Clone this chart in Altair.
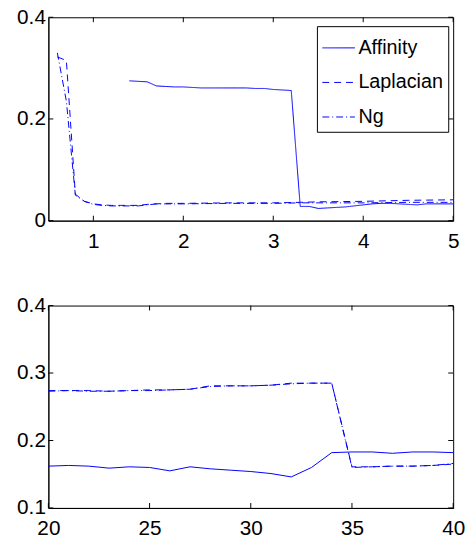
import altair as alt
import pandas as pd

FONT = "Liberation Sans"
FS = 21
BLUE = "#0000ff"

# ---------------- top panel data ----------------
top_aff_x = [1.4, 1.5, 1.6, 1.7, 1.8, 1.9, 2.0, 2.1, 2.2, 2.3, 2.4, 2.5, 2.6, 2.7, 2.8, 2.9, 3.0, 3.1, 3.2,
             3.3, 3.4, 3.5, 3.6, 3.7, 3.8, 3.9, 4.0, 4.1, 4.2, 4.3, 4.4, 4.5, 4.6, 4.7, 4.8, 4.9, 5.0]
top_aff_y = [0.275, 0.274, 0.273, 0.265, 0.264, 0.263, 0.263, 0.262, 0.261, 0.261, 0.261, 0.261, 0.261, 0.261,
             0.260, 0.260, 0.258, 0.257, 0.256,
             0.028, 0.028, 0.024, 0.025, 0.026, 0.027, 0.029, 0.031, 0.033, 0.034, 0.034, 0.033, 0.032, 0.031,
             0.033, 0.033, 0.033, 0.033]

top_lap_x = [0.6, 0.7, 0.8, 0.9, 1.0, 1.1, 1.2, 1.3, 1.4, 1.5, 1.6, 1.7, 1.8, 2.0, 2.5, 3.0, 3.3, 3.5, 4.0, 4.5, 5.0]
top_lap_y = [0.322, 0.315, 0.052, 0.038, 0.033, 0.031, 0.030, 0.030, 0.030, 0.030, 0.032, 0.033, 0.034, 0.034,
             0.035, 0.035, 0.036, 0.037, 0.038, 0.040, 0.041]

top_ng_x = [0.6, 0.7, 0.8, 0.9, 1.0, 1.1, 1.2, 1.3, 1.4, 1.5, 1.6, 1.7, 1.8, 2.0, 2.5, 3.0, 3.3, 3.5, 4.0, 4.5, 5.0]
top_ng_y = [0.330, 0.235, 0.050, 0.038, 0.032, 0.030, 0.029, 0.029, 0.029, 0.029, 0.031, 0.033, 0.033, 0.033,
            0.034, 0.034, 0.035, 0.035, 0.035, 0.036, 0.036]

top_xticks = [1, 2, 3, 4, 5]
top_yticks = [0, 0.2, 0.4]

# ---------------- bottom panel data ----------------
bot_x = list(range(20, 41))
bot_aff_y = [0.162, 0.163, 0.162, 0.159, 0.161, 0.160, 0.155, 0.161, 0.158, 0.156, 0.154, 0.151, 0.146, 0.160,
             0.182, 0.183, 0.183, 0.181, 0.183, 0.183, 0.182]
bot_lap_y = [0.274, 0.274, 0.274, 0.273, 0.274, 0.275, 0.275, 0.276, 0.281, 0.281, 0.281, 0.282, 0.285, 0.285,
             0.285, 0.161, 0.161, 0.162, 0.162, 0.163, 0.165]
bot_ng_y = [0.273, 0.274, 0.273, 0.273, 0.274, 0.274, 0.275, 0.276, 0.280, 0.281, 0.281, 0.282, 0.284, 0.285,
            0.285, 0.160, 0.161, 0.162, 0.162, 0.163, 0.166]

bot_xticks = [20, 25, 30, 35, 40]
bot_yticks = [0.1, 0.2, 0.3, 0.4]

series = ["Affinity", "Laplacian", "Ng"]
dashes = [[1, 0], [7, 5], [7, 3, 1, 3]]

W, H = 410, 206
H2 = 205
TICK = 5


def axis_x(vals):
    return alt.Axis(values=vals, ticks=False, grid=False, labelFlush=False, title=None,
                    labelPadding=10, labelFont=FONT, labelFontSize=FS, labelColor="black",
                    domainColor="black", format="d")


def axis_y(vals, expr):
    return alt.Axis(values=vals, ticks=False, grid=False, labelFlush=False, title=None,
                    labelPadding=3, labelFont=FONT, labelFontSize=FS, labelColor="black",
                    domainColor="black", labelExpr=expr)


def tick_layers(xticks, yticks, xenc, yenc, h):
    dx = pd.DataFrame({"x": xticks})
    dy = pd.DataFrame({"y": yticks})
    b = alt.Chart(dx).mark_rule(color="black", strokeWidth=1).encode(
        x=xenc, y=alt.value(h), y2=alt.value(h - TICK))
    t = alt.Chart(dx).mark_rule(color="black", strokeWidth=1).encode(
        x=xenc, y=alt.value(0), y2=alt.value(TICK))
    l = alt.Chart(dy).mark_rule(color="black", strokeWidth=1).encode(
        y=yenc, x=alt.value(0), x2=alt.value(TICK))
    r = alt.Chart(dy).mark_rule(color="black", strokeWidth=1).encode(
        y=yenc, x=alt.value(W - TICK), x2=alt.value(W))
    return [b, t, l, r]


# ---------------- top chart ----------------
rows = []
for name, xs, ys in [("Affinity", top_aff_x, top_aff_y), ("Laplacian", top_lap_x, top_lap_y),
                     ("Ng", top_ng_x, top_ng_y)]:
    for i, (a, b) in enumerate(zip(xs, ys)):
        rows.append({"series": name, "x": a, "y": b, "i": i})
df_top = pd.DataFrame(rows)

xenc_t = alt.X("x:Q", scale=alt.Scale(domain=[0.5, 5], nice=False, zero=False), axis=axis_x(top_xticks))
yenc_t = alt.Y("y:Q", scale=alt.Scale(domain=[0, 0.4], nice=False, zero=False),
               axis=axis_y(top_yticks, "datum.value == 0 ? '0' : format(datum.value, '.1f')"))

leg = alt.Legend(title=None, orient="none", legendX=272, legendY=9,
                 symbolType="stroke", symbolSize=1089,
                 symbolStrokeColor=BLUE, symbolStrokeWidth=1,
                 labelFont=FONT, labelFontSize=20, labelColor="black",
                 labelOffset=3, padding=5, rowPadding=8,
                 strokeColor="black", fillColor="white")

lines_top = alt.Chart(df_top).mark_line(strokeWidth=1).encode(
    x=xenc_t, y=yenc_t, order="i:Q",
    color=alt.Color("series:N", scale=alt.Scale(domain=series, range=[BLUE, BLUE, BLUE]), legend=leg),
    strokeDash=alt.StrokeDash("series:N", scale=alt.Scale(domain=series, range=dashes), legend=leg))

top = alt.layer(lines_top, *tick_layers(top_xticks, top_yticks, xenc_t, yenc_t, H)).properties(
    width=W, height=H)

# ---------------- bottom chart ----------------
df_bot = pd.DataFrame({"x": bot_x, "aff": bot_aff_y, "lap": bot_lap_y, "ng": bot_ng_y})
xenc_b = alt.X("x:Q", scale=alt.Scale(domain=[20, 40], nice=False, zero=False), axis=axis_x(bot_xticks))


def yb(col):
    return alt.Y(f"{col}:Q", scale=alt.Scale(domain=[0.1, 0.4], nice=False, zero=False),
                 axis=axis_y(bot_yticks, "format(datum.value, '.1f')"))


b_aff = alt.Chart(df_bot).mark_line(color=BLUE, strokeWidth=1).encode(x=xenc_b, y=yb("aff"))
b_lap = alt.Chart(df_bot).mark_line(color=BLUE, strokeWidth=1, strokeDash=dashes[1]).encode(x=xenc_b, y=yb("lap"))
b_ng = alt.Chart(df_bot).mark_line(color=BLUE, strokeWidth=1, strokeDash=dashes[2]).encode(x=xenc_b, y=yb("ng"))

yenc_b_ticks = alt.Y("y:Q", scale=alt.Scale(domain=[0.1, 0.4], nice=False, zero=False),
                     axis=axis_y(bot_yticks, "format(datum.value, '.1f')"))
bottom = alt.layer(b_aff, b_lap, b_ng, *tick_layers(bot_xticks, bot_yticks, xenc_b, yenc_b_ticks, H2)).properties(
    width=W, height=H2)

chart = alt.vconcat(top, bottom, spacing=42).properties(
    padding={"left": 16, "top": 2, "right": 0, "bottom": 0}
).configure_view(stroke="black", strokeWidth=1).configure_axis(domainWidth=1)

chart.save("out.html", embed_options={"renderer": "svg", "actions": False})
